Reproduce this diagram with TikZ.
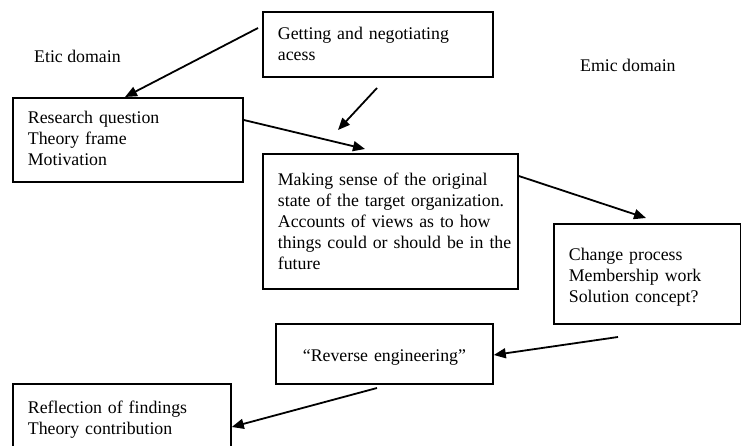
\documentclass[tikz,border=0pt]{standalone}
\usepackage{fontspec}
\setmainfont{Liberation Serif}
\usetikzlibrary{arrows.meta}
\newcommand\firstln[1]{\rule{0pt}{#1pt}}
\begin{document}
\begin{tikzpicture}[x=1pt,y=-1pt,
  boxnode/.style={draw=black, line width=1.8pt, anchor=north west, inner xsep=15pt, inner ysep=0pt,
    align=left, font=\fontsize{17.8}{21}\selectfont},
  labeltext/.style={anchor=base west, inner sep=0pt, font=\fontsize{17.8}{21}\selectfont},
  arr/.style={line width=1.8pt, -{Triangle[length=12pt,width=10pt]}}]
\path[use as bounding box, fill=white] (0,0) rectangle (741,446);
\clip (0,0) rectangle (741,446);

\node[boxnode, minimum width=230pt, minimum height=65pt, text width=200pt] (get) at (262,11)
  {\firstln{18.3}\mbox{Getting and negotiating}\\ acess\strut};
\node[boxnode, minimum width=230pt, minimum height=84pt, text width=200pt] (res) at (12,97)
  {\firstln{16.3}\mbox{Research question}\\ \mbox{Theory frame}\\ Motivation\strut};
\node[boxnode, minimum width=255pt, minimum height=135pt, text width=225pt] (mak) at (262,153)
  {\firstln{19.3}\mbox{Making sense of the original}\\ \mbox{state of the target organization.}\\ \mbox{Accounts of views as to how}\\ \mbox{things could or should be in the}\\ future\strut};
\node[boxnode, minimum width=187pt, minimum height=100pt, text width=157pt] (chg) at (553,223)
  {\firstln{22.3}\mbox{Change process}\\ \mbox{Membership work}\\ \mbox{Solution concept?}\strut};
\node[boxnode, align=center, minimum width=217pt, minimum height=60pt, text width=187pt] (rev) at (275,323)
  {\firstln{20.7}\mbox{“Reverse engineering”}\strut};
\node[boxnode, minimum width=218pt, minimum height=74pt, text width=188pt] (ref) at (12,383)
  {\firstln{13.3}\mbox{Reflection of findings}\\ \mbox{Theory contribution}\strut};

\node[labeltext] (etic) at (34,63) {Etic domain};
\node[labeltext] (emic) at (580,72) {Emic domain};

\coordinate (a1s) at (258,28);
\coordinate (a2s) at (377,88);
\coordinate (a2e) at (338,130);
\coordinate (a3e) at (365,149);
\coordinate (a4e) at (646,218);
\coordinate (a5s) at (618,337);
\coordinate (a6s) at (377,388);

\draw[arr] (a1s) -- ([xshift=113pt]res.north west);
\draw[arr] (a2s) -- (a2e);
\draw[arr] ([yshift=-23pt]res.north east) -- (a3e);
\draw[arr] ([yshift=-23pt]mak.north east) -- (a4e);
\draw[arr] (a5s) -- ([yshift=-32pt]rev.north east);
\draw[arr] (a6s) -- ([yshift=-44pt]ref.north east);
\end{tikzpicture}
\end{document}
